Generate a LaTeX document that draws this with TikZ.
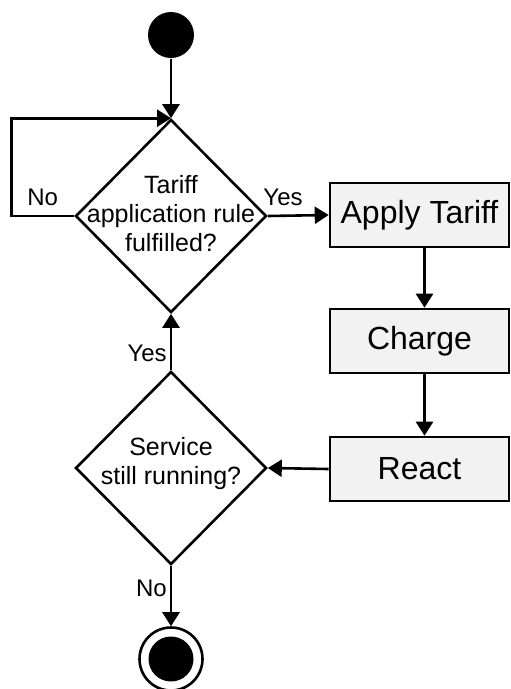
\documentclass[tikz,border=0pt]{standalone}
\usepackage{fontspec}
\setmainfont{Liberation Sans}
\usetikzlibrary{shapes.geometric,arrows.meta,positioning}
\definecolor{boxgray}{RGB}{242,242,242}

\begin{document}
\begin{tikzpicture}[x=1pt, y=-1pt, line width=2.6pt,
    flow/.style={-{Triangle[length=14pt,width=17pt]}},
    decision/.style={diamond, draw, minimum width=191pt, minimum height=193pt, inner sep=0pt},
    dtext/.style={align=center, inner sep=0pt, font=\fontsize{25}{29}\selectfont},
    action/.style={rectangle, draw, fill=boxgray, minimum width=179pt, minimum height=64pt, font=\fontsize{32}{36}\selectfont},
    tag/.style={font=\fontsize{24}{27}\selectfont, inner sep=3pt}]
    \useasboundingbox (0,0) rectangle (511,689);

    % Start and end states
    \node[circle, fill=black, minimum size=46pt, inner sep=0pt] (start) at (171,35) {};
    \node[circle, draw, minimum size=63pt, inner sep=0pt] (stop) at (171,659) {};
    \node[circle, fill=black, minimum size=45pt, inner sep=0pt] (stopdot) at (stop) {};

    % Decisions
    \node[decision] (rule) at (171,216) {};
    \node[dtext] (ruletext) at ([yshift=2pt]rule.center) {Tariff\\application rule\\fulfilled?};
    \node[decision] (svc) at (171,468) {};
    \node[dtext] (svctext) at ([yshift=4pt]svc.center) {Service\\still running?};

    % Actions
    \node[action] (apply) at (419.5,215) {Apply Tariff};
    \node[action] (charge) at (419.5,341) {Charge};
    \node[action] (react) at (419.5,469) {React};

    % Flow
    \draw[flow] (start) -- (rule.north);
    \draw[flow] (rule.west) -- node[tag, above, yshift=6pt] {No} ++(-63,0) |- (rule.north);
    \draw[flow] (rule.east) -- node[tag, above, yshift=6pt, pos=0.25] {Yes} (apply.west);
    \draw[flow] ([xshift=5pt]apply.south) -- ([xshift=5pt]charge.north);
    \draw[flow] ([xshift=5pt]charge.south) -- ([xshift=5pt]react.north);
    \draw[flow] (react.west) -- (svc.east);
    \draw[flow] (svc.north) -- node[tag, left, pos=0.3] {Yes} (rule.south);
    \draw[flow] (svc.south) -- node[tag, left, pos=0.37] {No} (stop.north);
\end{tikzpicture}
\end{document}
